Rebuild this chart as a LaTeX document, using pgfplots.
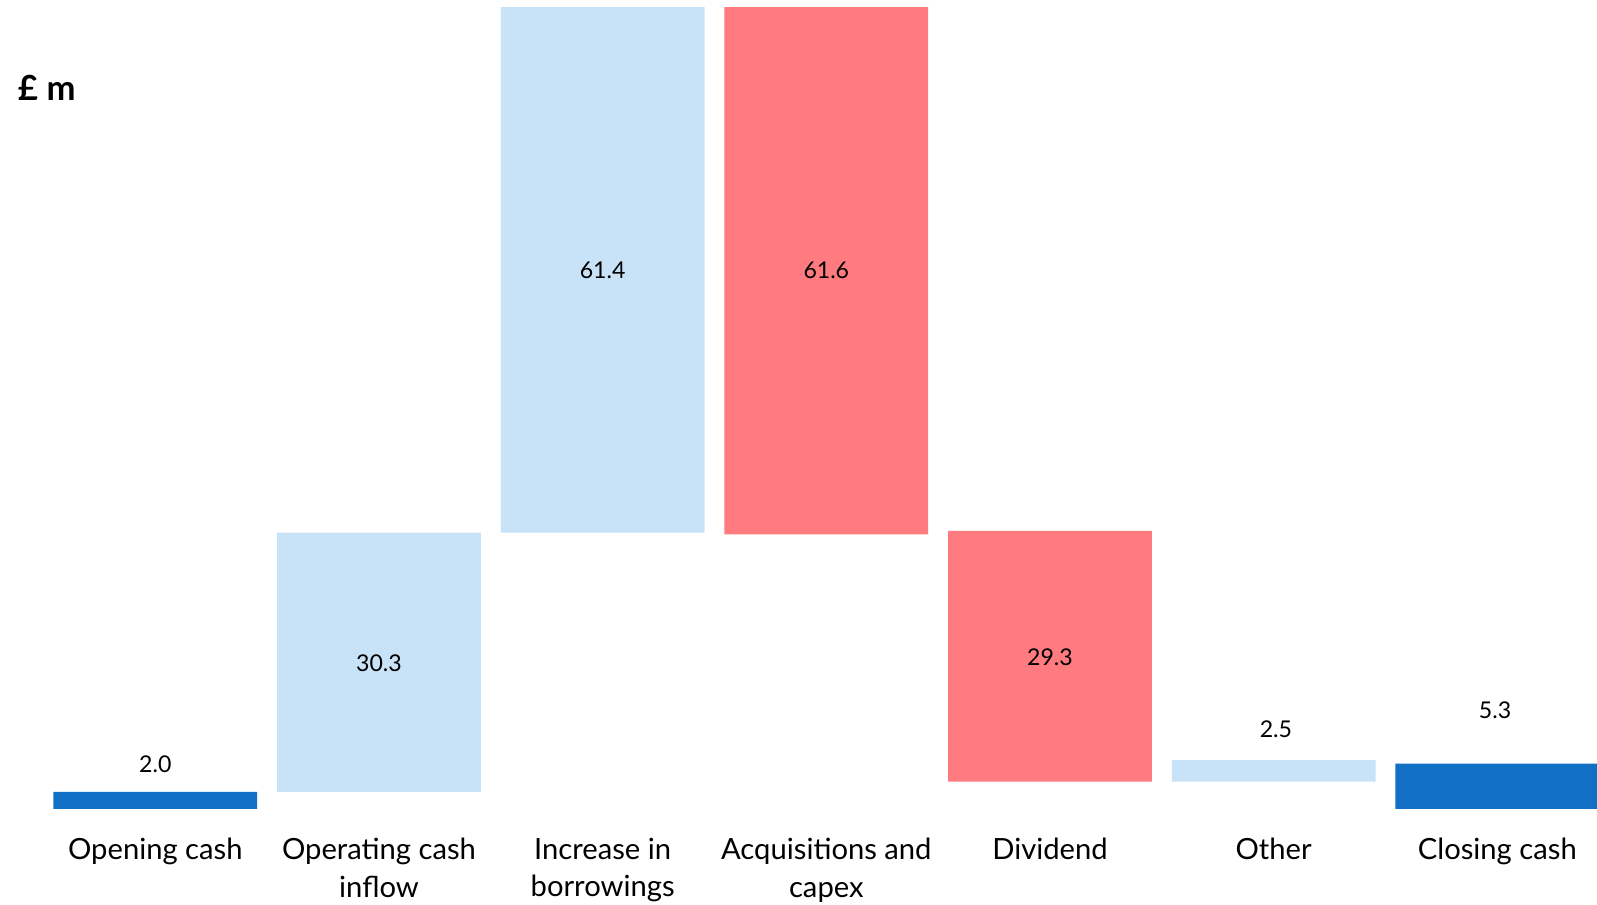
\documentclass[border=0pt]{standalone}
\usepackage{fontspec}
\setmainfont{Lato}
\usepackage{pgfplots}
\pgfplotsset{compat=1.18}
\definecolor{darkblue}{HTML}{1170C4}
\definecolor{lightblue}{HTML}{C8E2F8}
\definecolor{redbar}{HTML}{FF7B80}
\tikzset{val/.style={font=\fontsize{6.8}{8}\selectfont, inner sep=0pt}}
\begin{document}
\begin{tikzpicture}
\begin{axis}[
  scale only axis,
  width=470.4pt, height=238.29pt,
  xmin=-0.6945, xmax=6.4458,
  ymin=0, ymax=94.54,
  ybar stacked,
  bar width=60pt,
  axis line style={draw=none},
  tick style={draw=none},
  ytick=\empty,
  xtick={0,1,2,3,4,5,6},
  xticklabels={Opening cash,{Operating cash\\inflow},{Increase in\\borrowings},{Acquisitions and\\capex},Dividend,Other,Closing cash},
  xticklabel style={font=\fontsize{8.6}{11.1}\selectfont, align=center, anchor=north, yshift=-5pt},
  clip=false,
]
\addplot[draw=none, fill=white, fill opacity=0] coordinates {(0,0) (1,2.0) (2,32.3) (3,32.1) (4,3.2) (5,3.2) (6,0)};
\addplot[draw=none, fill=darkblue] coordinates {(0,2.0) (1,0) (2,0) (3,0) (4,0) (5,0) (6,5.3)};
\addplot[draw=none, fill=lightblue] coordinates {(0,0) (1,30.3) (2,61.4) (3,0) (4,0) (5,2.5) (6,0)};
\addplot[draw=none, fill=redbar] coordinates {(0,0) (1,0) (2,0) (3,61.6) (4,29.3) (5,0) (6,0)};
\coordinate (v0) at (axis cs:0,5.27);
\coordinate (v1) at (axis cs:1,17.06);
\coordinate (v2) at (axis cs:2,63.0);
\coordinate (v3) at (axis cs:3,62.9);
\coordinate (v4) at (axis cs:4,17.77);
\coordinate (v5) at (axis cs:5.01,9.32);
\coordinate (v6) at (axis cs:5.99,11.58);
\end{axis}
\node[val] at (v0) {2.0};
\node[val] at (v1) {30.3};
\node[val] at (v2) {61.4};
\node[val] at (v3) {61.6};
\node[val] at (v4) {29.3};
\node[val] at (v5) {2.5};
\node[val] at (v6) {5.3};
\node[anchor=west, inner sep=0pt, font=\fontsize{10.2}{12}\selectfont\bfseries] at (5.1pt,212.5pt) {£\hspace{0.25em}m};
\pgfresetboundingbox
\path (0pt,-28.11pt) rectangle (470.4pt,238.29pt);
\end{tikzpicture}
\end{document}
